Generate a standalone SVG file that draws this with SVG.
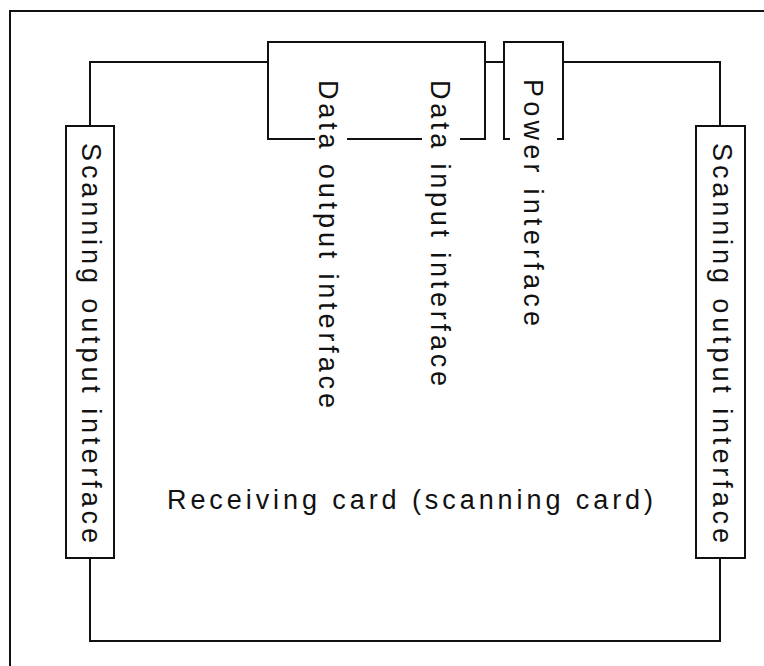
<svg xmlns="http://www.w3.org/2000/svg" width="764" height="666" viewBox="0 0 764 666">
<style>
.ln{fill:none;stroke:#111;stroke-width:2}
.t{font-family:"Liberation Sans",Arial,sans-serif;font-size:27px;fill:#111}
</style>
<rect x="0" y="0" width="764" height="666" fill="#fff"/>
<g id="frame">
<path class="ln" d="M10,666 V11 H764"/>
</g>
<g id="connectors">
<path class="ln" d="M90,126 V62 H268"/>
<path class="ln" d="M485,62 H504"/>
<path class="ln" d="M563,62 H720 V126"/>
<path class="ln" d="M90,558 V641 H720 V558"/>
</g>
<g id="data-box">
<path class="ln" d="M315,139 H268 V42 H485 V139 H460"/>
<path class="ln" d="M347,139 H422"/>
<text class="t" transform="translate(328,80) rotate(90)" x="0" y="9" textLength="328" lengthAdjust="spacing">Data output interface</text>
<text class="t" transform="translate(440,80) rotate(90)" x="0" y="9" textLength="306" lengthAdjust="spacing">Data input interface</text>
</g>
<g id="power-box">
<path class="ln" d="M510,139 H504 V42 H563 V139 H557"/>
<text class="t" transform="translate(533,79) rotate(90)" x="0" y="9" textLength="247" lengthAdjust="spacing">Power interface</text>
</g>
<g id="scan-left">
<rect class="ln" x="66" y="126" width="48" height="432"/>
<text class="t" transform="translate(91,143) rotate(90)" x="0" y="9" textLength="400" lengthAdjust="spacing">Scanning output interface</text>
</g>
<g id="scan-right">
<rect class="ln" x="696" y="126" width="49" height="432"/>
<text class="t" transform="translate(722,143) rotate(90)" x="0" y="9" textLength="400" lengthAdjust="spacing">Scanning output interface</text>
</g>
<g id="card-label">
<text class="t" x="167" y="509" textLength="486" lengthAdjust="spacing">Receiving card (scanning card)</text>
</g>
</svg>
